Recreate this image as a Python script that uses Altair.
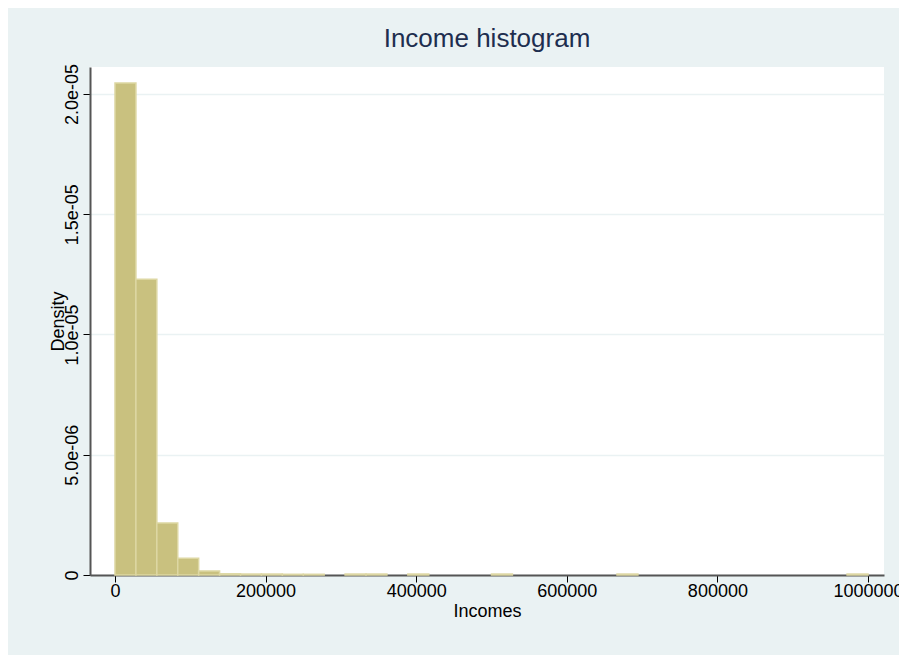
import pandas as pd
import altair as alt

# 36 bins of width 1e6/36 starting at 0
bin_width = 1000000 / 36
density = [2.046e-5, 1.23e-5, 2.16e-6, 0.70e-6, 0.17e-6,
           0.05e-6, 0.04e-6, 0.04e-6, 0.03e-6, 0.03e-6,
           0, 0.04e-6, 0.04e-6, 0, 0.04e-6,
           0, 0, 0, 0.04e-6, 0,
           0, 0, 0, 0, 0.04e-6,
           0, 0, 0, 0, 0,
           0, 0, 0, 0, 0, 0.04e-6]

df = pd.DataFrame({
    "start": [i * bin_width for i in range(36)],
    "end": [(i + 1) * bin_width for i in range(36)],
    "density": density,
})
df = df[df["density"] > 0]

y_ticks = [0, 5e-6, 1e-5, 1.5e-5, 2e-5]
x_ticks = [0, 200000, 400000, 600000, 800000, 1000000]

chart = (
    alt.Chart(df)
    .mark_bar(fill="#C9C17F", stroke="#DDD7A3", strokeWidth=1.5)
    .encode(
        x=alt.X("start:Q", scale=alt.Scale(domain=[-33200, 1021250], nice=False, zero=False),
                axis=alt.Axis(values=x_ticks, format="d", title="Incomes", grid=False,
                              labelFontSize=18, titleFontSize=18, labelColor="#000",
                              titleColor="#000", domainColor="#555", domainWidth=2,
                              titleFontWeight="normal",
                              tickColor="#000", tickSize=7, labelPadding=0, titlePadding=2,
                              labelOverlap=False)),
        x2="end:Q",
        y=alt.Y("density:Q", scale=alt.Scale(domain=[0, 2.112e-5], nice=False),
                axis=alt.Axis(values=y_ticks, title="Density", labelAngle=270,
                              labelAlign="center", labelBaseline="bottom",
                              labelExpr="datum.value == 0 ? '0' : replace(format(datum.value, '.1e'), 'e-', 'e-0')",
                              gridColor="#EAF2F3", gridWidth=1.5,
                              titleFontWeight="normal",
                              labelFontSize=18, titleFontSize=18, labelColor="#000",
                              titleColor="#000", domainColor="#555", domainWidth=2,
                              tickColor="#000", tickSize=7, labelPadding=2, titlePadding=-4)),
        y2=alt.datum(0),
    )
    .properties(
        width=794, height=508,
        autosize=alt.AutoSizeParams(type="none"),
        padding={"left": 82, "top": 59, "right": 15, "bottom": 80},
        background="#EAF2F3",
        title=alt.TitleParams("Income histogram", fontSize=26, fontWeight="normal",
                              color="#1E2E4F", offset=11),
    )
    .configure(font="Liberation Sans")
    .configure_view(fill="white", stroke=None)
)

chart.save("out.html", embed_options={"renderer": "svg", "actions": False})
